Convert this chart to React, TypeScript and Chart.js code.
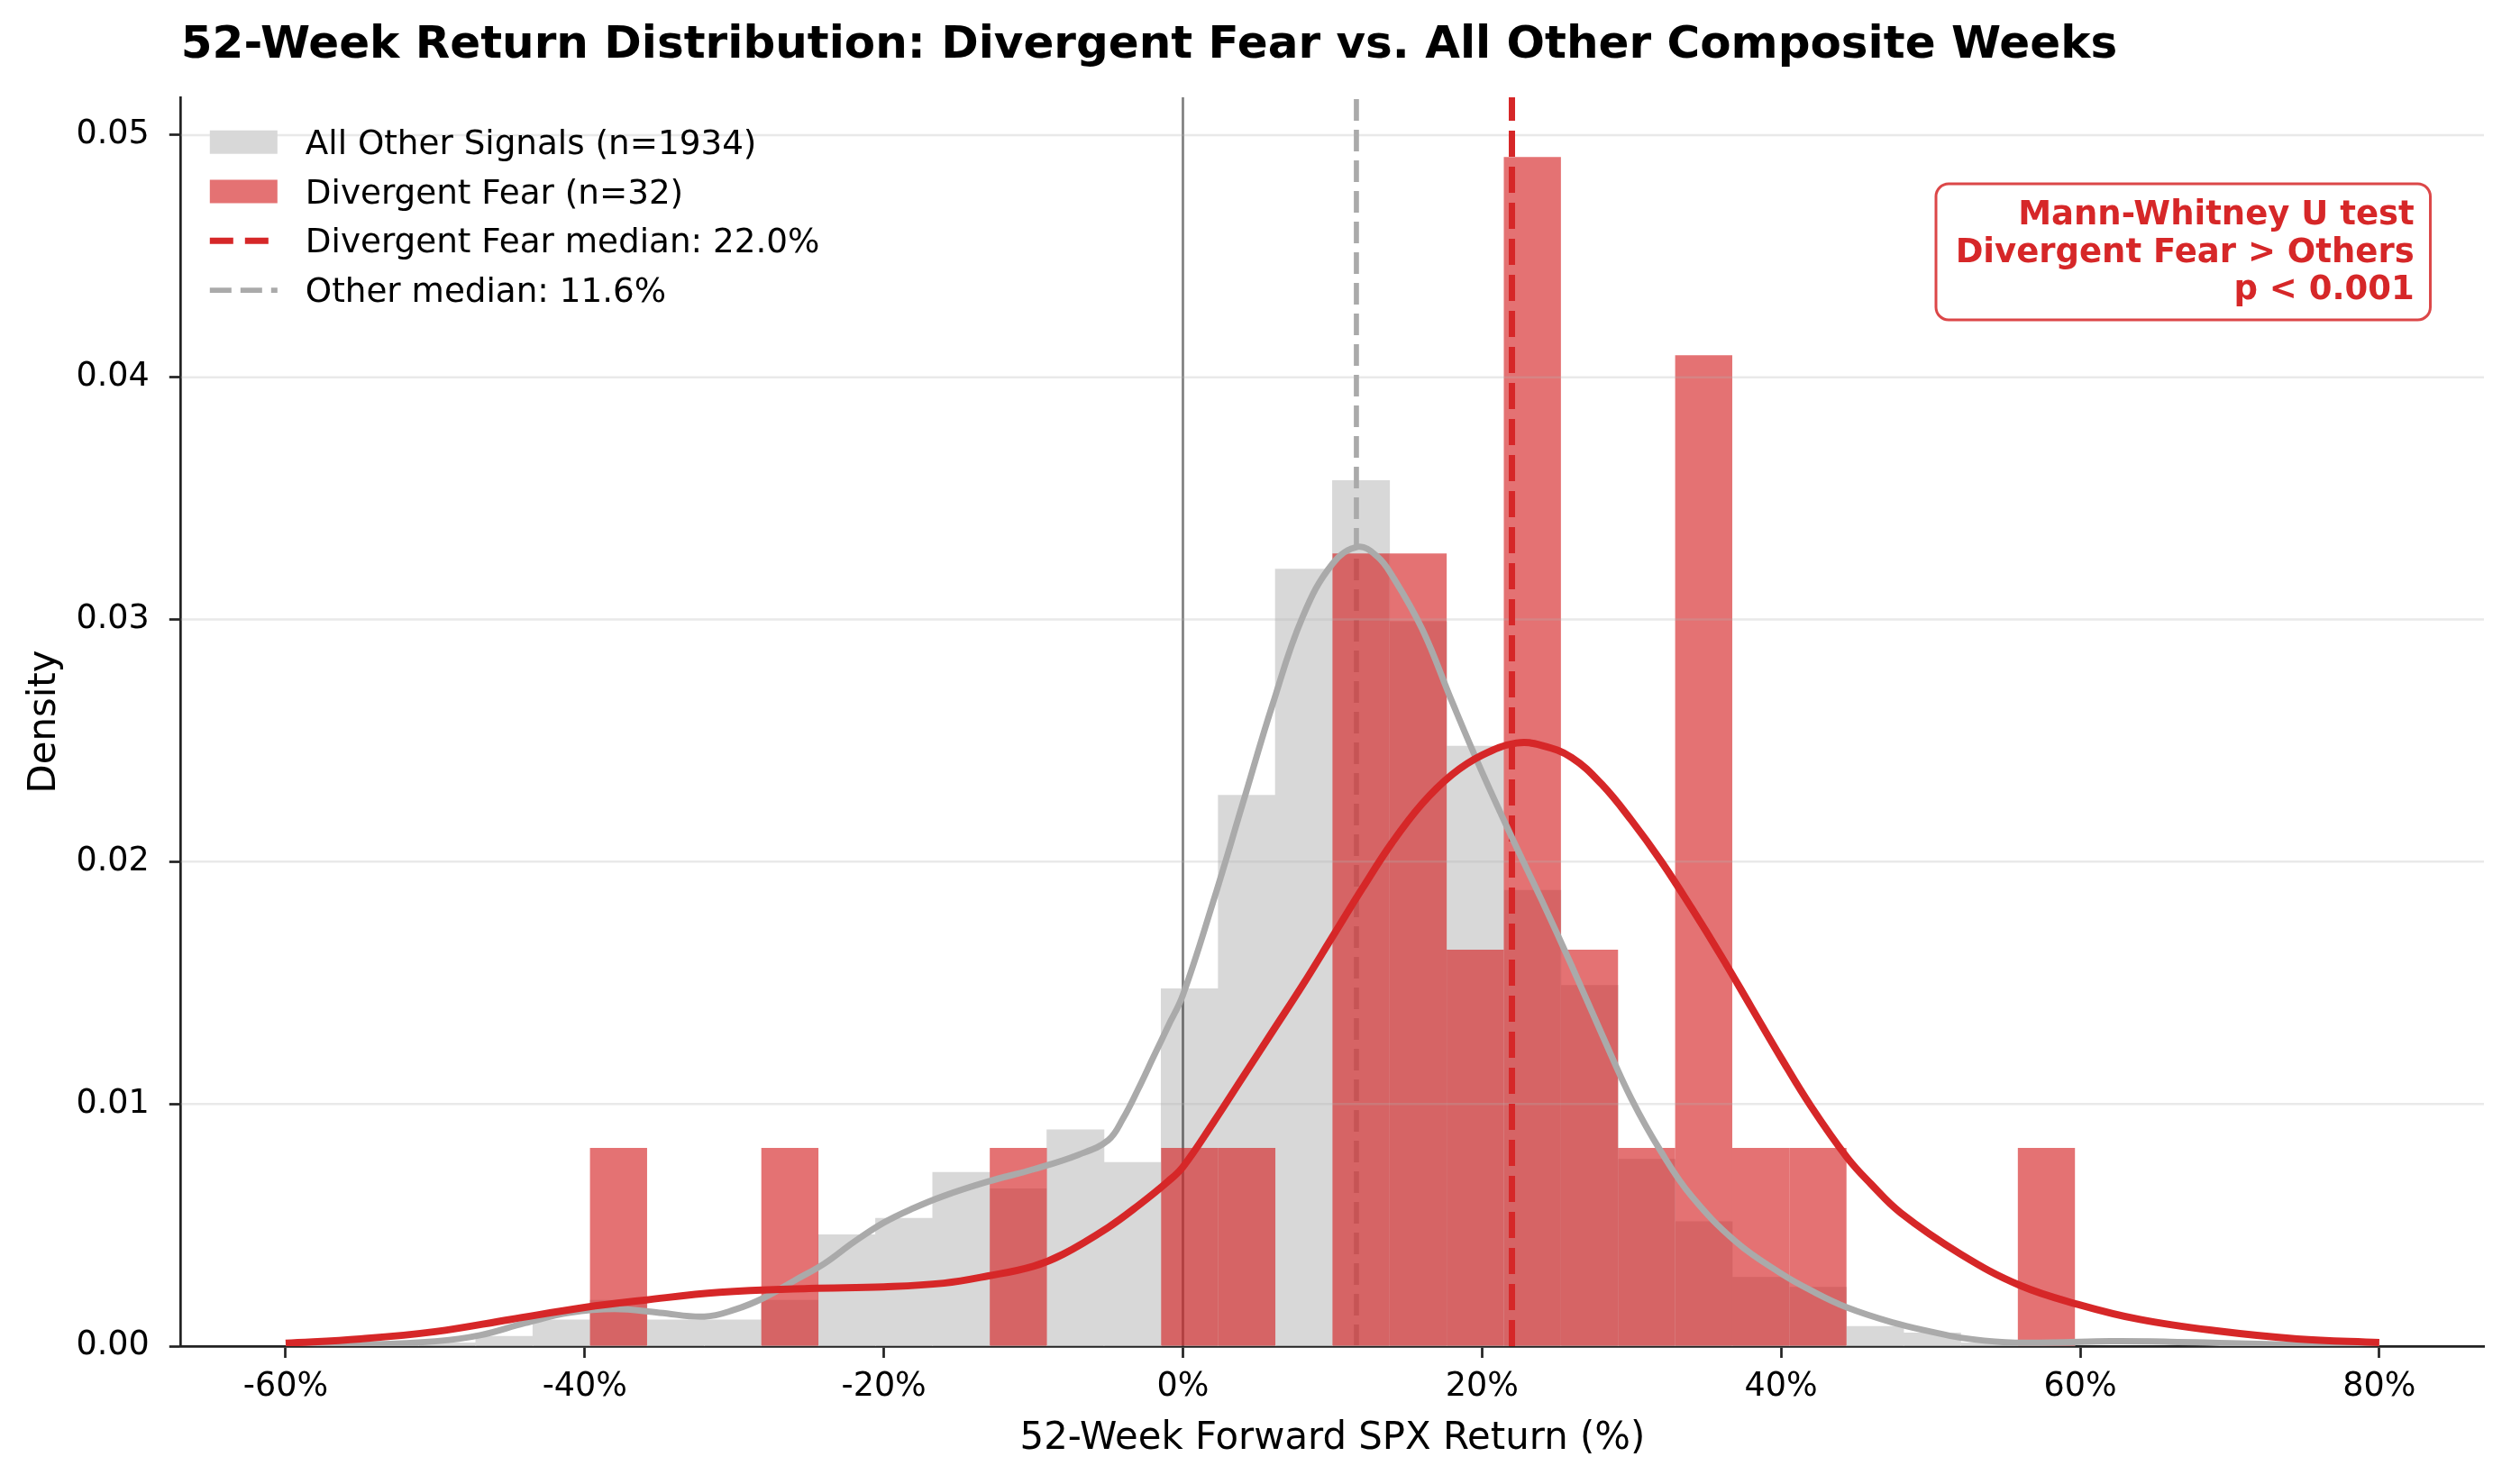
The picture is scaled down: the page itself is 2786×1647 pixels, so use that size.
import React, { useEffect, useRef } from "react";
import { Chart, registerables } from "chart.js";

Chart.register(...registerables);

const W = 2786;
const H = 1647;
const FONT_FAMILY = '"DejaVu Sans", "Liberation Sans", sans-serif';

const CHART_TITLE = "52-Week Return Distribution: Divergent Fear vs. All Other Composite Weeks";
const X_TITLE = "52-Week Forward SPX Return (%)";
const Y_TITLE = "Density";

// Shared histogram bin edges (% return)
const binEdges = [
  -54.9269, -51.1077, -47.2885, -43.4692, -39.65, -35.8308, -32.0115, -28.1923,
  -24.3731, -20.5538, -16.7346, -12.9154, -9.0962, -5.2769, -1.4577, 2.3615,
  6.1808, 10.0, 13.8192, 17.6385, 21.4577, 25.2769, 29.0962, 32.9154, 36.7346,
  40.5538, 44.3731, 48.1923, 52.0115, 55.8308, 59.65,
];

// Counts per bin
const otherCounts = [
  1, 1, 3, 8, 14, 8, 8, 14, 34, 39, 53, 48, 66, 56, 109, 168, 237, 264, 221, 183,
  139, 110, 57, 38, 21, 18, 6, 4, 1, 1,
];
const fearCounts = [
  0, 0, 0, 0, 1, 0, 0, 1, 0, 0, 0, 1, 0, 0, 1, 1, 0, 4, 4, 2, 6, 2, 1, 5, 1, 1, 0,
  0, 0, 1,
];
const OTHER_N = 1934;
const FEAR_N = 32;

// KDE curves
const otherKdeX = [
  -60, -55, -50, -47, -44, -41, -38, -35, -32, -30, -28, -26, -24, -22, -20, -18,
  -16, -13, -10, -7, -5, -4, -3, -2, -1, 0, 2, 4, 6, 8, 10, 11.7, 13, 14, 16, 18,
  20, 22, 24, 26, 28, 30, 32, 34, 37, 40, 42, 44.4, 47.5, 50, 52, 55, 58, 62, 66,
  70, 75, 80,
];
const otherKdeY = [
  0.00002, 0.00006, 0.0002, 0.00045, 0.00095, 0.00138, 0.00153, 0.00138, 0.00122,
  0.0015, 0.002, 0.0027, 0.0034, 0.0043, 0.0051, 0.0057, 0.0062, 0.0068, 0.0073,
  0.0079, 0.0085, 0.0094, 0.0106, 0.0119, 0.0132, 0.0145, 0.0183, 0.0224, 0.0265,
  0.0301, 0.0323, 0.033, 0.0326, 0.0318, 0.0296, 0.0266, 0.0237, 0.021, 0.0184,
  0.0157, 0.0129, 0.0102, 0.008, 0.0062, 0.0043, 0.003, 0.0023, 0.0016, 0.00097,
  0.0006, 0.00035, 0.00016, 0.00015, 0.0002, 0.00018, 0.00012, 0.00005, 0.00002,
];
const fearKdeX = [
  -60, -55, -50, -45, -40, -36, -31, -25, -20, -16, -13, -10, -8, -5, -3, -1, 0, 2,
  4, 6, 8, 10, 12, 14, 16, 18, 20, 22.3, 24, 26, 28, 30, 32, 34, 36, 38, 40, 42,
  44.4, 46, 48, 52, 56, 60, 64, 69, 74.5, 80,
];
const fearKdeY = [
  0.00012, 0.0003, 0.0006, 0.0011, 0.0016, 0.0019, 0.00222, 0.00238, 0.00245,
  0.0026, 0.0029, 0.0033, 0.0038, 0.0049, 0.0058, 0.0068, 0.0074, 0.0092, 0.0111,
  0.013, 0.0149, 0.0169, 0.0189, 0.0208, 0.0224, 0.0236, 0.0244, 0.0249, 0.0248,
  0.0243, 0.0232, 0.0217, 0.02, 0.0181, 0.0161, 0.014, 0.0119, 0.0099, 0.0078,
  0.0067, 0.0055, 0.0038, 0.0025, 0.0017, 0.0011, 0.00064, 0.0003, 0.00015,
];

const fearMedian = 22.0;
const otherMedian = 11.6;
const zeroReference = 0;

const xTickValues = [-60, -40, -20, 0, 20, 40, 60, 80];
const yTickValues = [0, 0.01, 0.02, 0.03, 0.04, 0.05];
const X_MIN = -67;
const X_MAX = 87;
const Y_MAX = 0.05156;

const legendLabels = [
  "All Other Signals (n=1934)",
  "Divergent Fear (n=32)",
  "Divergent Fear median: 22.0%",
  "Other median: 11.6%",
];
const annotationLines = ["Mann-Whitney U test", "Divergent Fear > Others", "p < 0.001"];

const RED = "#d62728";
const RED_BAR = "rgba(214,39,40,0.65)";
const GRAY_BAR = "rgb(216,216,216)";
const GRAY_LINE = "#aaaaaa";
const AXIS_COLOR = "#222222";
const RED_BAR_INDEX = 3;

export default function App() {
  const canvasRef = useRef<HTMLCanvasElement | null>(null);

  useEffect(() => {
    const canvas = canvasRef.current;
    if (!canvas) return;

    const centers = binEdges.slice(0, -1).map((e, i) => (e + binEdges[i + 1]) / 2);
    const widths = binEdges.slice(0, -1).map((e, i) => binEdges[i + 1] - e);
    const otherDensity = otherCounts.map((c, i) => c / (OTHER_N * widths[i]));
    const fearDensity = fearCounts.map((c, i) => c / (FEAR_N * widths[i]));

    const overlayPlugin = {
      id: "overlay",
      afterDatasetDraw(chart: any, args: any) {
        if (args.index !== RED_BAR_INDEX) return;
        const { ctx, chartArea } = chart;
        const ys = chart.scales.y;
        ctx.save();
        ctx.strokeStyle = "rgba(176,176,176,0.28)";
        ctx.lineWidth = 2.5;
        for (const v of yTickValues) {
          if (v === 0) continue;
          const y = ys.getPixelForValue(v);
          ctx.beginPath();
          ctx.moveTo(chartArea.left, y);
          ctx.lineTo(chartArea.right, y);
          ctx.stroke();
        }
        ctx.restore();
      },
      afterDraw(chart: any) {
        const { ctx, chartArea } = chart;
        const L = chartArea.left;
        const T = chartArea.top;
        ctx.save();
        // Legend
        const patchX = L + 32;
        const patchW = 75;
        const patchH = 26;
        const textX = L + 138;
        ctx.font = `37.3px ${FONT_FAMILY}`;
        ctx.textBaseline = "alphabetic";
        ctx.textAlign = "left";
        legendLabels.forEach((label, i) => {
          const base = T + 62.7 + i * 54.8;
          const cy = base - 13;
          if (i === 0 || i === 1) {
            ctx.fillStyle = i === 0 ? GRAY_BAR : RED_BAR;
            ctx.fillRect(patchX, cy - patchH / 2, patchW, patchH);
          } else {
            ctx.beginPath();
            ctx.lineCap = "butt";
            if (i === 2) {
              ctx.strokeStyle = RED;
              ctx.lineWidth = 7;
              ctx.setLineDash([26, 13]);
            } else {
              ctx.strokeStyle = GRAY_LINE;
              ctx.lineWidth = 5.7;
              ctx.setLineDash([24, 10]);
            }
            ctx.moveTo(patchX, cy);
            ctx.lineTo(patchX + patchW, cy);
            ctx.stroke();
            ctx.setLineDash([]);
          }
          ctx.fillStyle = "#000";
          ctx.fillText(label, textX, base);
        });

        // Annotation box
        const R = chartArea.right;
        const bx0 = R - 608;
        const bx1 = R - 59.5;
        const by0 = T + 96;
        const by1 = T + 247;
        ctx.beginPath();
        (ctx as any).roundRect(bx0, by0, bx1 - bx0, by1 - by0, 14);
        ctx.fillStyle = "rgba(255,255,255,0.9)";
        ctx.fill();
        ctx.lineWidth = 3;
        ctx.strokeStyle = "rgba(214,39,40,0.85)";
        ctx.stroke();
        ctx.font = `bold 37px ${FONT_FAMILY}`;
        ctx.fillStyle = RED;
        ctx.textAlign = "right";
        annotationLines.forEach((line, i) => {
          ctx.fillText(line, R - 77.3, T + 141.3 + i * 41.2);
        });
        ctx.restore();
      },
    };

    const chart = new Chart(canvas, {
      type: "bar",
      data: {
        datasets: [
          {
            type: "bar",
            label: legendLabels[0],
            data: centers.map((c, i) => ({ x: c, y: otherDensity[i] })),
            backgroundColor: GRAY_BAR,
            borderWidth: 0,
            grouped: false,
            barPercentage: 1,
            categoryPercentage: 1,
            order: 7,
          },
          {
            type: "line",
            label: legendLabels[3],
            data: [
              { x: otherMedian, y: 0 },
              { x: otherMedian, y: Y_MAX },
            ],
            borderColor: GRAY_LINE,
            borderWidth: 5.7,
            borderDash: [24, 10],
            pointRadius: 0,
            fill: false,
            order: 6,
          },
          {
            type: "line",
            label: "zero",
            data: [
              { x: zeroReference, y: 0 },
              { x: zeroReference, y: Y_MAX },
            ],
            borderColor: "rgba(0,0,0,0.5)",
            borderWidth: 2.7,
            pointRadius: 0,
            fill: false,
            order: 5,
          },
          {
            type: "bar",
            label: legendLabels[1],
            data: centers.map((c, i) => ({ x: c, y: fearDensity[i] })),
            backgroundColor: RED_BAR,
            borderWidth: 0,
            grouped: false,
            barPercentage: 1,
            categoryPercentage: 1,
            inflateAmount: 0,
            order: 4,
          },
          {
            type: "line",
            label: legendLabels[2],
            data: [
              { x: fearMedian, y: 0 },
              { x: fearMedian, y: Y_MAX },
            ],
            borderColor: RED,
            borderWidth: 7,
            borderDash: [29, 11],
            pointRadius: 0,
            fill: false,
            order: 3,
          },
          {
            type: "line",
            label: "Other KDE",
            data: otherKdeX.map((x, i) => ({ x, y: otherKdeY[i] })),
            borderColor: GRAY_LINE,
            borderWidth: 7,
            pointRadius: 0,
            fill: false,
            tension: 0.4,
            borderJoinStyle: "round",
            order: 2,
          },
          {
            type: "line",
            label: "Fear KDE",
            data: fearKdeX.map((x, i) => ({ x, y: fearKdeY[i] })),
            borderColor: RED,
            borderWidth: 8,
            pointRadius: 0,
            fill: false,
            tension: 0.4,
            borderJoinStyle: "round",
            order: 1,
          },
        ] as any,
      },
      options: {
        responsive: false,
        animation: false,
        devicePixelRatio: 1,
        layout: { padding: { left: 0, right: 30, top: 0, bottom: 0 } },
        plugins: {
          legend: { display: false },
          tooltip: { enabled: false },
          title: {
            display: true,
            text: CHART_TITLE,
            fullSize: false,
            align: "start",
            color: "#000",
            font: { family: FONT_FAMILY, size: 50, weight: "bold", lineHeight: 1.2 },
            padding: { top: 21, bottom: 27 },
          },
        },
        scales: {
          x: {
            type: "linear",
            min: X_MIN,
            max: X_MAX,
            offset: false,
            afterBuildTicks: (scale: any) => {
              scale.ticks = xTickValues.map((v) => ({ value: v }));
            },
            afterFit: (scale: any) => {
              scale.height = 153;
            },
            ticks: {
              autoSkip: false,
              maxRotation: 0,
              minRotation: 0,
              color: "#000",
              padding: 11,
              font: { family: FONT_FAMILY, size: 36.5 },
              callback: (v: any) => `${v}%`,
            },
            grid: {
              display: true,
              offset: false,
              drawOnChartArea: false,
              drawTicks: true,
              tickLength: 13,
              tickWidth: 2.7,
              tickColor: AXIS_COLOR,
            },
            border: { display: true, color: AXIS_COLOR, width: 2.7 },
            title: {
              display: true,
              text: X_TITLE,
              color: "#000",
              font: { family: FONT_FAMILY, size: 41.8 },
              padding: { top: 0, bottom: 25 },
            },
          },
          y: {
            type: "linear",
            min: 0,
            max: Y_MAX,
            afterBuildTicks: (scale: any) => {
              scale.ticks = yTickValues.map((v) => ({ value: v }));
            },
            afterFit: (scale: any) => {
              scale.width = 200.8;
            },
            ticks: {
              color: "#000",
              padding: 22,
              font: { family: FONT_FAMILY, size: 36.5 },
              callback: (v: any) => Number(v).toFixed(2),
            },
            grid: {
              display: true,
              drawOnChartArea: false,
              drawTicks: true,
              tickLength: 13,
              tickWidth: 2.7,
              tickColor: AXIS_COLOR,
            },
            border: { display: true, color: AXIS_COLOR, width: 2.7 },
            title: {
              display: true,
              text: Y_TITLE,
              color: "#000",
              font: { family: FONT_FAMILY, size: 41.8 },
              padding: { top: 25, bottom: 0 },
            },
          },
        },
      } as any,
      plugins: [overlayPlugin],
    });

    return () => chart.destroy();
  }, []);

  return (
    <div style={{ position: "absolute", left: 0, top: 0, width: W, height: H, background: "#fff" }}>
      <canvas ref={canvasRef} width={W} height={H} style={{ width: W, height: H, display: "block" }} />
    </div>
  );
}
